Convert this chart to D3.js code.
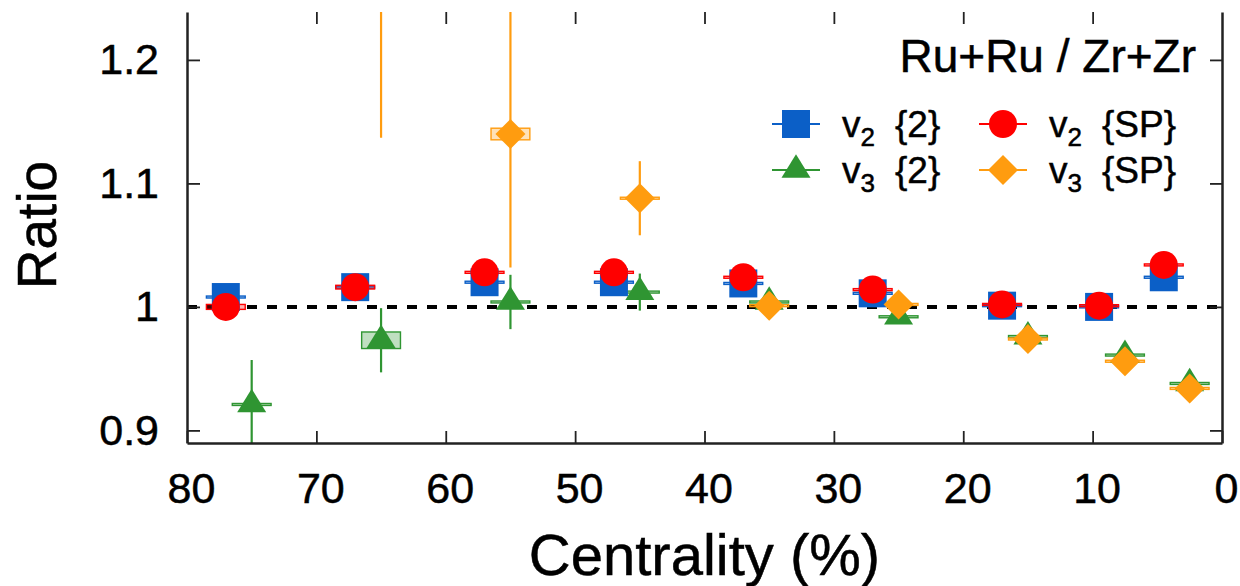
<!DOCTYPE html>
<html>
<head>
<meta charset="utf-8">
<script src="https://cdn.jsdelivr.net/npm/d3@7"></script>
<style>
  html, body { margin: 0; padding: 0; background: #fff; }
  svg { display: block; font-family: "Liberation Sans", Arial, Helvetica, sans-serif; }
  svg text { stroke: #000; stroke-width: 0.5px; }
</style>
</head>
<body>
<svg id="chart" width="1240" height="586"></svg>
<script>
// ---------------- data ----------------
const xTicks = [80, 70, 60, 50, 40, 30, 20, 10, 0];
const yTicks = [0.9, 1.0, 1.1, 1.2];
const yTickLabels = ["0.9", "1", "1.1", "1.2"];

const v2Cent = [77, 67, 57, 47, 37, 27, 17, 9.5, 4.5];
const v3Cent = [75, 65, 55, 45, 35, 25, 15, 7.5, 2.5];
const v3SPCent = [65, 55, 45, 35, 25, 15, 7.5, 2.5];

const v2_2 = [1.008, 1.016, 1.020, 1.020, 1.019, 1.011, 1.001, 1.000, 1.024];
const v2_2Err = [0.003, 0.003, 0.003, 0.002, 0.002, 0.002, 0.002, 0.002, 0.003];
const v2_2Sys = [0.0008, 0.0008, 0.0008, 0.0008, 0.0008, 0.0008, 0.0008, 0.0008, 0.0008];

const v2SP = [1.000, 1.016, 1.028, 1.028, 1.024, 1.014, 1.002, 1.001, 1.034];
const v2SPErr = [0.003, 0.003, 0.003, 0.002, 0.002, 0.002, 0.002, 0.002, 0.003];
const v2SPSys = [0.002, 0.0015, 0.0008, 0.0008, 0.0008, 0.0008, 0.0008, 0.0008, 0.0008];

const v3_2 = [0.921, 0.973, 1.004, 1.012, 1.004, 0.992, 0.976, 0.961, 0.938];
const v3_2Err = [0.036, 0.026, 0.022, 0.015, 0.008, 0.005, 0.004, 0.004, 0.004];
const v3_2Sys = [0.0008, 0.0067, 0.0008, 0.0008, 0.0008, 0.0008, 0.0008, 0.0008, 0.0008];

const v3SP = [1.300, 1.140, 1.088, 1.001, 1.002, 0.974, 0.956, 0.934];
const v3SPErr = [0.163, 0.108, 0.030, 0.010, 0.006, 0.005, 0.005, 0.005];
const v3SPSys = [0.010, 0.0047, 0.0008, 0.0008, 0.0008, 0.0008, 0.0008, 0.0008];

const seriesNames = ["v2{2}", "v3{2}", "v2{SP}", "v3{SP}"];

// ---------------- layout ----------------
const W = 1240, H = 586;
const margin = { top: 12, right: 18, bottom: 143, left: 187 };
const pw = W - margin.left - margin.right;
const ph = H - margin.top - margin.bottom;

const colors = { blue: "#0b5fc7", red: "#ff0000", green: "#2f9532", orange: "#ff9c0f" };

const x = d3.scaleLinear().domain([80, 0]).range([0, pw]);
const y = d3.scaleLinear().domain([0.8898, 1.2388]).range([ph, 0]);

const svg = d3.select("#chart");
const g = svg.append("g").attr("transform", `translate(${margin.left},${margin.top})`);

svg.append("defs").append("clipPath").attr("id", "plotclip")
  .append("rect").attr("x", 0).attr("y", 0).attr("width", pw).attr("height", ph);

// marker path generators (relative to point)
const shapes = {
  square: s => `M${-s/2},${-s/2}H${s/2}V${s/2}H${-s/2}Z`,
  circle: s => `M${-s/2},0A${s/2},${s/2} 0 1,0 ${s/2},0A${s/2},${s/2} 0 1,0 ${-s/2},0Z`,
  triangle: s => `M0,${-s*0.54}L${s*0.5},${s*0.27}L${-s*0.5},${s*0.27}Z`,
  diamond: s => `M0,${-s/2}L${s/2},0L0,${s/2}L${-s/2},0Z`
};

const series = [
  { name: seriesNames[0], cx: v2Cent, v: v2_2, e: v2_2Err, s: v2_2Sys, color: colors.blue, shape: "square", size: 28 },
  { name: seriesNames[1], cx: v3Cent, v: v3_2, e: v3_2Err, s: v3_2Sys, color: colors.green, shape: "triangle", size: 29 },
  { name: seriesNames[2], cx: v2Cent, v: v2SP, e: v2SPErr, s: v2SPSys, color: colors.red, shape: "circle", size: 28 },
  { name: seriesNames[3], cx: v3SPCent, v: v3SP, e: v3SPErr, s: v3SPSys, color: colors.orange, shape: "diamond", size: 30 }
];

const plot = g.append("g").attr("clip-path", "url(#plotclip)");

// reference line at 1
plot.append("line")
  .attr("x1", x(80)).attr("x2", x(0))
  .attr("y1", y(1)).attr("y2", y(1))
  .attr("stroke", "#000").attr("stroke-width", 4)
  .attr("stroke-dasharray", "10,10");

// systematic boxes
series.forEach(sr => {
  const pts = sr.v.map((v, i) => ({ c: sr.cx[i], v, e: sr.e[i], s: sr.s[i] }));
  plot.append("g").selectAll("rect").data(pts).join("rect")
    .attr("x", d => x(d.c + 1.5))
    .attr("width", d => x(d.c - 1.5) - x(d.c + 1.5))
    .attr("y", d => y(d.v + d.s))
    .attr("height", d => Math.max(0.5, y(d.v - d.s) - y(d.v + d.s)))
    .attr("fill", sr.color).attr("fill-opacity", 0.3)
    .attr("stroke", sr.color).attr("stroke-width", 1.4);
});

// statistical error bars
series.forEach(sr => {
  const pts = sr.v.map((v, i) => ({ c: sr.cx[i], v, e: sr.e[i] }));
  plot.append("g").selectAll("line").data(pts).join("line")
    .attr("x1", d => x(d.c)).attr("x2", d => x(d.c))
    .attr("y1", d => y(d.v - d.e)).attr("y2", d => y(d.v + d.e))
    .attr("stroke", sr.color).attr("stroke-width", 2.2);
});

// markers
series.forEach(sr => {
  const pts = sr.v.map((v, i) => ({ c: sr.cx[i], v }));
  plot.append("g").selectAll("path").data(pts).join("path")
    .attr("transform", d => `translate(${x(d.c)},${y(d.v)})`)
    .attr("d", shapes[sr.shape](sr.size))
    .attr("fill", sr.color);
});

// ---------------- axes ----------------
const axisColor = "#222";
const xAxis = d3.axisBottom(x).tickValues(xTicks).tickFormat(d3.format("d"))
  .tickSizeInner(-12).tickSizeOuter(0).tickPadding(29);
const xg = g.append("g").attr("transform", `translate(0,${ph})`).call(xAxis);
xg.selectAll("text").attr("font-size", 43).attr("fill", "#000").attr("dx", 4)
  .attr("font-family", "'Liberation Sans', Arial, sans-serif");

const yAxis = d3.axisLeft(y).tickValues(yTicks).tickFormat((d, i) => yTickLabels[i])
  .tickSizeInner(-13).tickSizeOuter(0).tickPadding(28);
const yg = g.append("g").call(yAxis);
yg.selectAll("text").attr("font-size", 43).attr("fill", "#000")
  .attr("font-family", "'Liberation Sans', Arial, sans-serif");

const topAxis = d3.axisTop(x).tickValues(xTicks.slice(1, -1)).tickFormat("")
  .tickSizeInner(-12).tickSizeOuter(0);
const tg = g.append("g").call(topAxis);
tg.select(".domain").remove();

const rightAxis = d3.axisRight(y).tickValues(yTicks).tickFormat("")
  .tickSizeInner(-12).tickSizeOuter(0);
const rg = g.append("g").attr("transform", `translate(${pw},0)`).call(rightAxis);

[xg, yg, tg, rg].forEach(a => {
  a.select(".domain").attr("stroke", axisColor).attr("stroke-width", 2.5);
  a.selectAll(".tick line").attr("stroke", axisColor).attr("stroke-width", 1.8);
});

// axis titles
svg.append("text")
  .attr("x", margin.left + pw / 2).attr("y", 575)
  .attr("text-anchor", "middle").attr("font-size", 58).attr("fill", "#000")
  .text("Centrality (%)");

svg.append("text")
  .attr("transform", `translate(56,${225}) rotate(-90)`)
  .attr("text-anchor", "middle").attr("font-size", 55).attr("fill", "#000")
  .text("Ratio");

// system label
svg.append("text")
  .attr("x", 1196).attr("y", 72)
  .attr("text-anchor", "end").attr("font-size", 46).attr("fill", "#000")
  .text("Ru+Ru / Zr+Zr");

// ---------------- legend ----------------
const legendItems = [
  { sr: series[0], sub: "2", tag: "{2}", lx: 796, ly: 124 },
  { sr: series[1], sub: "3", tag: "{2}", lx: 796, ly: 170 },
  { sr: series[2], sub: "2", tag: "{SP}", lx: 1003, ly: 124 },
  { sr: series[3], sub: "3", tag: "{SP}", lx: 1003, ly: 170 }
];
const lg = svg.append("g");
legendItems.forEach(it => {
  const gg = lg.append("g").attr("transform", `translate(${it.lx},${it.ly})`);
  gg.append("line").attr("x1", -24).attr("x2", 24).attr("y1", 0).attr("y2", 0)
    .attr("stroke", it.sr.color).attr("stroke-width", 2);
  gg.append("path").attr("d", shapes[it.sr.shape](it.sr.size)).attr("fill", it.sr.color);
  const t = gg.append("text").attr("x", 46).attr("y", 13)
    .attr("font-size", 37).attr("fill", "#000");
  t.append("tspan").text("v");
  t.append("tspan").attr("font-size", 26).attr("dy", 9).text(it.sub);
  t.append("tspan").attr("dy", -9).attr("dx", 20).text(it.tag);
});
</script>
</body>
</html>
